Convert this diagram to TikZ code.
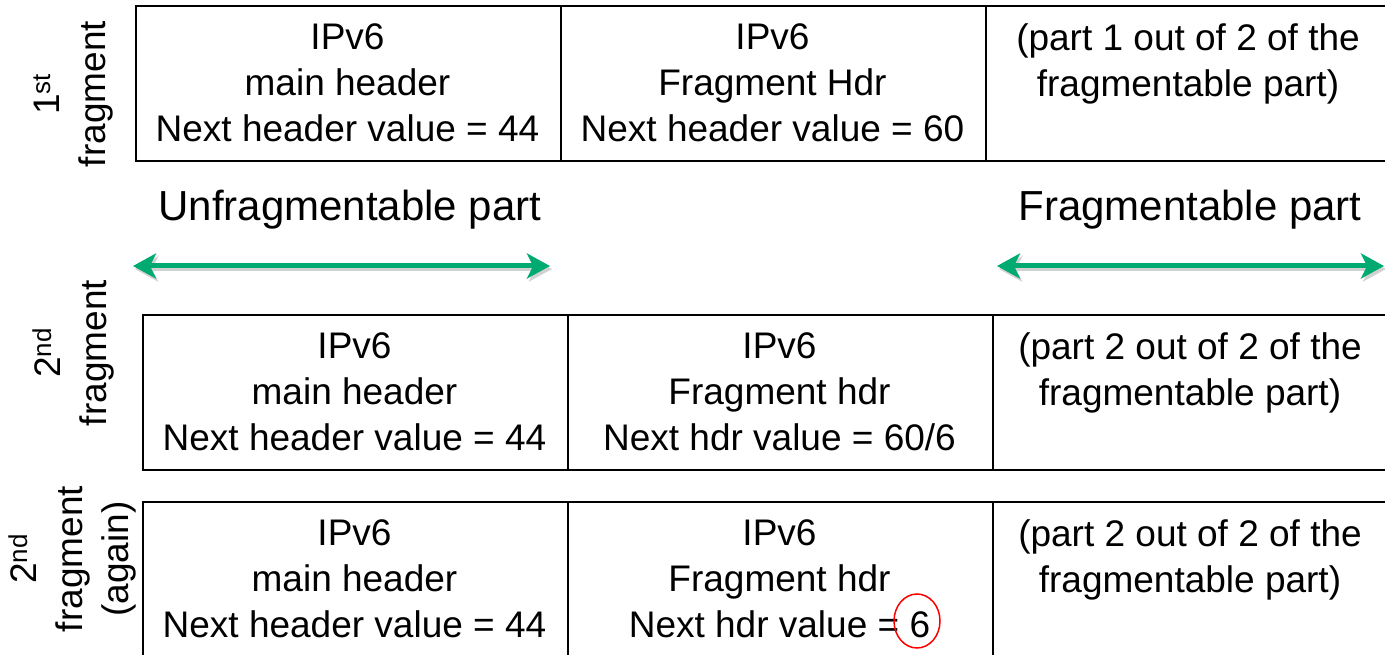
\documentclass[tikz,border=0pt]{standalone}
\usepackage{fontspec}
\setmainfont{Liberation Sans}
\usetikzlibrary{arrows.meta,shapes.geometric}
\definecolor{arrgreen}{RGB}{0,170,112}
\begin{document}
\begin{tikzpicture}[x=1pt,y=-1pt,
  cell/.style={draw=black, line width=2pt, inner sep=0pt, anchor=north west, minimum width=425pt},
  txt/.style={font=\fontsize{37}{46}\selectfont, align=center, inner sep=0pt},
  ttl/.style={font=\fontsize{42}{50}\selectfont, inner sep=0pt},
  tips/.style={{Stealth[length=23pt,width=25pt,inset=6pt]}-{Stealth[length=23pt,width=25pt,inset=6pt]}},
  garrow/.style={arrgreen, line width=5pt, tips},
  gshadow/.style={black!18, line width=5pt, tips, transform canvas={xshift=2pt,yshift=-3pt}},
  mark6/.style={draw=red, line width=1.5pt, ellipse, inner sep=0pt, minimum width=46pt, minimum height=54pt}]
\useasboundingbox (0,0) rectangle (1385,655);
\clip (0,0) rectangle (1385,655);
% row 1
\node[cell, minimum height=155pt] (r1a) at (135,5) {};
\node[cell, minimum height=155pt] (r1b) at (560,5) {};
\node[cell, minimum height=155pt, minimum width=415pt] (r1c) at (985,5) {};
% row 2
\node[cell, minimum height=155pt] (r2a) at (142,314) {};
\node[cell, minimum height=155pt] (r2b) at (567,314) {};
\node[cell, minimum height=155pt, minimum width=415pt] (r2c) at (992,314) {};
% row 3
\node[cell, minimum height=170pt] (r3a) at (142,501) {};
\node[cell, minimum height=170pt] (r3b) at (567,501) {};
\node[cell, minimum height=170pt, minimum width=415pt] (r3c) at (992,501) {};
% texts row 1
\node[txt] (t1a) at (347.5,83) {IPv6\\main header\\Next header value = 44};
\node[txt] (t1b) at (772.5,83) {IPv6\\Fragment Hdr\\Next header value = 60};
\node[txt] (t1c) at (1188,64) {(part 1 out of 2 of the\\fragmentable part)};
% texts row 2
\node[txt] (t2a) at (354.5,392) {IPv6\\main header\\Next header value = 44};
\node[txt] (t2b) at (779.5,392) {IPv6\\Fragment hdr\\Next hdr value = 60/6};
\node[txt] (t2c) at (1190,373) {(part 2 out of 2 of the\\fragmentable part)};
% texts row 3
\node[txt] (t3a) at (354.5,579) {IPv6\\main header\\Next header value = 44};
\node[txt] (t3b) at (779.5,579) {IPv6\\Fragment hdr\\Next hdr value = 6};
\node[txt] (t3c) at (1190,560) {(part 2 out of 2 of the\\fragmentable part)};
\node[mark6] (circ) at (917,621) {};
% side labels
\node[txt, rotate=90] (l1) at (73,94) {1\textsuperscript{st}\\fragment};
\node[txt, rotate=90] (l2) at (73,353) {2\textsuperscript{nd}\\fragment};
\node[txt, rotate=90] (l3) at (72,559) {2\textsuperscript{nd}\\fragment\\(again)};
% titles
\node[ttl] (unf) at (350,210) {Unfragmentable part};
\node[ttl] (frg) at (1190,210) {Fragmentable part};
% arrows
\coordinate (ua) at (133,266);
\coordinate (ub) at (550,266);
\coordinate (fa) at (997,266);
\coordinate (fb) at (1384,266);
\draw[gshadow] (ua) -- (ub);
\draw[gshadow] (fa) -- (fb);
\draw[garrow] (ua) -- (ub);
\draw[garrow] (fa) -- (fb);
\end{tikzpicture}
\end{document}
